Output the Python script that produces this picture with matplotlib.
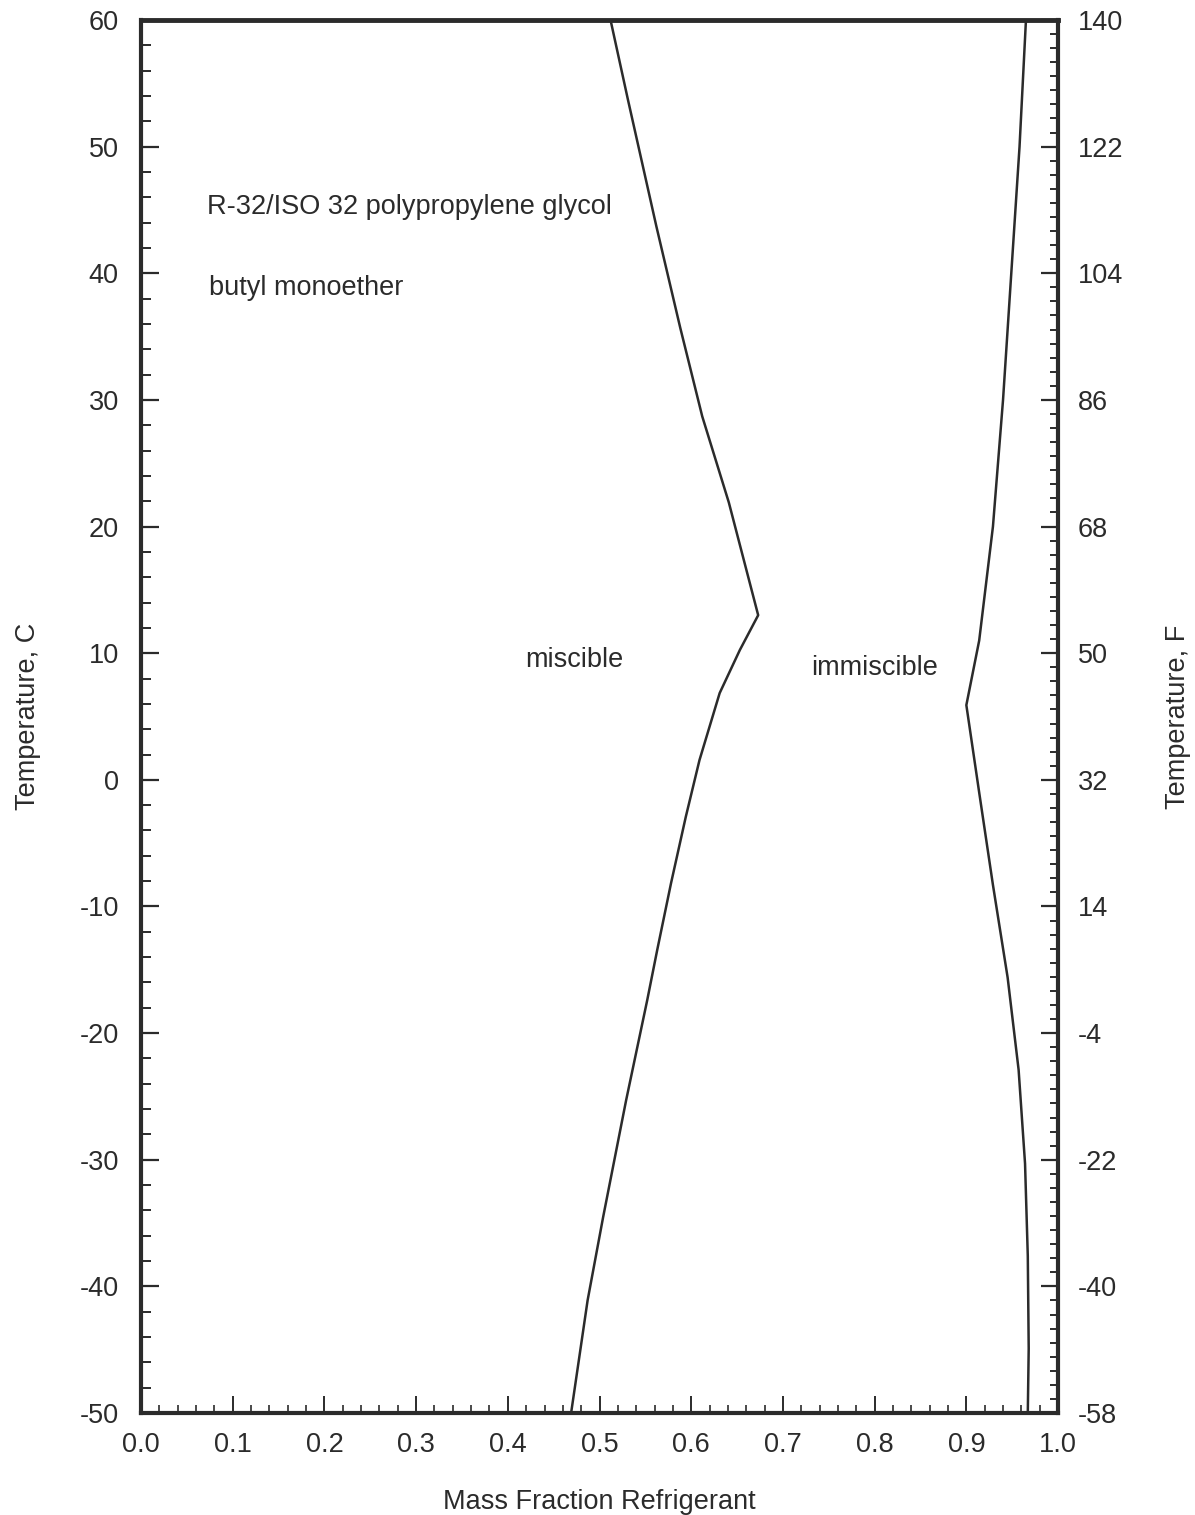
import numpy as np
import matplotlib
matplotlib.use("Agg")
import matplotlib.pyplot as plt
from matplotlib.ticker import MultipleLocator, FixedLocator

plt.rcParams['font.family'] = ['Liberation Sans', 'DejaVu Sans']
plt.rcParams['axes.unicode_minus'] = False

# miscibility boundary, left curve
left_temp_c = [60, 53.7, 43.7, 35.7, 28.7, 21.9, 13.0, 10.25, 6.85, 1.56, -2.94,
               -8.15, -13.4, -17.4, -25.3, -34.5, -41.1, -50]
left_frac = [0.512, 0.531, 0.562, 0.588, 0.612, 0.641, 0.673, 0.653, 0.631, 0.609,
             0.594, 0.578, 0.563, 0.552, 0.529, 0.504, 0.487, 0.469]

# right curve
right_temp_c = [60, 50, 40, 30, 20, 11.0, 5.9, -1.0, -8.3, -15.6, -22.9, -30.3,
                -37.6, -44.9, -50]
right_frac = [0.965, 0.958, 0.949, 0.940, 0.929, 0.914, 0.900, 0.914, 0.929, 0.945,
              0.957, 0.964, 0.967, 0.968, 0.967]

x_ticks = np.round(np.arange(0, 1.01, 0.1), 1)
c_ticks = list(range(-50, 61, 10))
f_ticks = list(range(-58, 141, 18))

ink = '#2b2b2b'
fs = 19.5

fig = plt.figure(figsize=(11.95, 15.15), dpi=100)
ax = fig.add_axes([0.118, 0.0673, 0.7674, 0.9195])

ax.plot(left_frac, left_temp_c, color=ink, lw=1.8)
ax.plot(right_frac, right_temp_c, color=ink, lw=1.8)

ax.set_xlim(0, 1)
ax.set_ylim(-50, 60)
ax.xaxis.set_major_locator(FixedLocator(x_ticks))
ax.xaxis.set_minor_locator(MultipleLocator(0.02))
ax.set_xticklabels([f'{t:.1f}' for t in x_ticks])
ax.yaxis.set_major_locator(FixedLocator(c_ticks))
ax.yaxis.set_minor_locator(MultipleLocator(2))

ax.tick_params(axis='both', which='both', direction='in', colors=ink,
               top=False, right=False, labelsize=fs)
ax.tick_params(axis='y', which='major', length=13, width=1.6, pad=16)
ax.tick_params(axis='y', which='minor', length=7, width=1.4)
ax.tick_params(axis='x', which='major', length=12, width=1.4, pad=14)
ax.tick_params(axis='x', which='minor', length=6, width=1.2)

for side in ['left', 'bottom', 'top', 'right']:
    ax.spines[side].set_color(ink)
    ax.spines[side].set_linewidth(3)
ax.spines['top'].set_linewidth(3.5)

ax.set_xlabel('Mass Fraction Refrigerant', fontsize=fs, color=ink, labelpad=22)
ax.set_ylabel('Temperature, C', fontsize=fs, color=ink, va='center')
ax.yaxis.set_label_coords(-0.123, 0.5)

# Fahrenheit scale on the right
ax2 = ax.twinx()
ax2.set_ylim(-50 * 1.8 + 32, 60 * 1.8 + 32)
ax2.yaxis.set_major_locator(FixedLocator(f_ticks))
ax2.yaxis.set_minor_locator(MultipleLocator(2))
ax2.tick_params(axis='y', which='both', direction='in', colors=ink, labelsize=fs)
ax2.tick_params(axis='y', which='major', length=12, width=1.6, pad=14)
ax2.tick_params(axis='y', which='minor', length=6, width=1.4)
ax2.set_ylabel('Temperature, F', fontsize=fs, color=ink, va='center')
ax2.yaxis.set_label_coords(1.131, 0.5)
for side in ax2.spines:
    ax2.spines[side].set_visible(False)

ax.text(0.072, 45.2, 'R-32/ISO 32 polypropylene glycol', fontsize=fs, color=ink,
        ha='left', va='center')
ax.text(0.074, 38.8, 'butyl monoether', fontsize=fs, color=ink, ha='left', va='center')
ax.text(0.473, 9.5, 'miscible', fontsize=fs, color=ink, ha='center', va='center')
ax.text(0.80, 8.8, 'immiscible', fontsize=fs, color=ink, ha='center', va='center')

fig.savefig('out.png', dpi=100, facecolor='white')
